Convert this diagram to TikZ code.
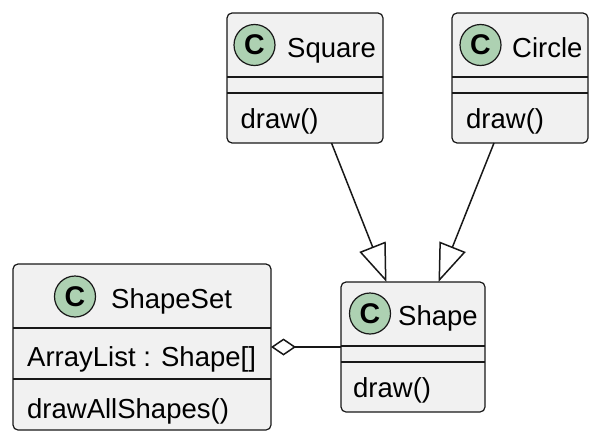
\documentclass[tikz,border=0pt]{standalone}
\usepackage{fontspec}
\setmainfont{Liberation Sans}
\usetikzlibrary{arrows.meta}
\definecolor{boxfill}{HTML}{F1F1F1}
\definecolor{ink}{HTML}{181818}
\definecolor{cfill}{HTML}{ADD1B2}
\begin{document}
\begin{tikzpicture}[x=1pt,y=-1pt,
  classbox/.style={draw=ink, fill=boxfill, line width=1.2pt, rounded corners=5pt, inner sep=0pt, outer sep=0pt},
  sepline/.style={draw=ink, line width=1.1pt},
  badge/.style={circle, draw=ink, fill=cfill, line width=1.2pt, minimum size=41pt, inner sep=0pt, font=\fontsize{28.5}{28.5}\selectfont\bfseries},
  txt/.style={anchor=base west, inner sep=0pt, font=\fontsize{27.5}{33}\selectfont, text=black},
  link/.style={draw=ink, line width=1.5pt},
  ext/.style={-{Triangle[length=38pt,width=28pt,fill=white]}},
  agg/.style={-{Diamond[length=25pt,width=17pt,fill=white]}}
]
\useasboundingbox (0,0) rectangle (600,442);

% class boxes
\node[classbox, minimum width=156pt, minimum height=130pt] (sq) at (305,78) {};
\node[classbox, minimum width=136pt, minimum height=130pt] (ci) at (520,78) {};
\node[classbox, minimum width=258pt, minimum height=166pt] (ss) at (142,347) {};
\node[classbox, minimum width=144pt, minimum height=130pt] (sh) at (413,347) {};

% separators
\foreach \b in {sq,ci,sh}{
  \draw[sepline] ([yshift=-64pt]\b.north west) -- ([yshift=-64pt]\b.north east);
  \draw[sepline] ([yshift=-80pt]\b.north west) -- ([yshift=-80pt]\b.north east);
}
\draw[sepline] ([yshift=-64pt]ss.north west) -- ([yshift=-64pt]ss.north east);
\draw[sepline] ([yshift=-115pt]ss.north west) -- ([yshift=-115pt]ss.north east);

% badges
\node[badge] (sqc) at (254.5,45) {C};
\node[badge] (cic) at (480.5,45) {C};
\node[badge] (ssc) at (75,296.5) {C};
\node[badge] (shc) at (370,313.5) {C};

% titles
\node[txt] (sqt) at (287,57) {Square};
\node[txt] (cit) at (512,57) {Circle};
\node[txt] (sst) at (111,308) {ShapeSet};
\node[txt] (sht) at (398,325.5) {Shape};

% members
\node[txt] (sqm) at (240.5,128) {draw()};
\node[txt] (cim) at (466,128) {draw()};
\node[txt] (shm) at (353,397) {draw()};
\node[txt] (ssa) at (27,366.5) {ArrayList : Shape[]};
\node[txt] (ssm) at (27,418) {drawAllShapes()};

% connectors
\draw[link, ext] ([xshift=26.5pt]sq.south) -- ([xshift=-26.5pt]sh.north);
\draw[link, ext] ([xshift=-26pt]ci.south) -- ([xshift=25.5pt]sh.north);
\draw[link, agg] (sh.west) -- (ss.east);
\end{tikzpicture}
\end{document}
